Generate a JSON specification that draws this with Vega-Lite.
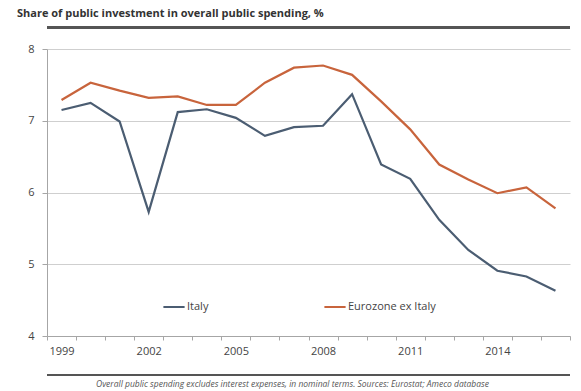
{
  "$schema": "https://vega.github.io/schema/vega-lite/v6.json",
  "width": 523,
  "height": 287,
  "autosize": {"type": "none"},
  "padding": {"left": 47, "top": 49, "right": 11, "bottom": 55},
  "background": "white",
  "config": {
    "font": "Open Sans",
    "view": {"stroke": null}
  },
  "title": {
    "text": "Share of public investment in overall public spending, %",
    "anchor": "start",
    "frame": "group",
    "dx": -30,
    "offset": 7,
    "fontSize": 11,
    "fontWeight": "bold",
    "color": "#333333",
    "font": "Open Sans"
  },
  "datasets": {
    "series": [
      {"year": 1999, "region": "Italy", "value": 7.15},
      {"year": 2000, "region": "Italy", "value": 7.25},
      {"year": 2001, "region": "Italy", "value": 6.99},
      {"year": 2002, "region": "Italy", "value": 5.73},
      {"year": 2003, "region": "Italy", "value": 7.12},
      {"year": 2004, "region": "Italy", "value": 7.16},
      {"year": 2005, "region": "Italy", "value": 7.04},
      {"year": 2006, "region": "Italy", "value": 6.79},
      {"year": 2007, "region": "Italy", "value": 6.91},
      {"year": 2008, "region": "Italy", "value": 6.93},
      {"year": 2009, "region": "Italy", "value": 7.37},
      {"year": 2010, "region": "Italy", "value": 6.39},
      {"year": 2011, "region": "Italy", "value": 6.19},
      {"year": 2012, "region": "Italy", "value": 5.62},
      {"year": 2013, "region": "Italy", "value": 5.2},
      {"year": 2014, "region": "Italy", "value": 4.91},
      {"year": 2015, "region": "Italy", "value": 4.83},
      {"year": 2016, "region": "Italy", "value": 4.63},
      {"year": 1999, "region": "Eurozone ex Italy", "value": 7.29},
      {"year": 2000, "region": "Eurozone ex Italy", "value": 7.53},
      {"year": 2001, "region": "Eurozone ex Italy", "value": 7.42},
      {"year": 2002, "region": "Eurozone ex Italy", "value": 7.32},
      {"year": 2003, "region": "Eurozone ex Italy", "value": 7.34},
      {"year": 2004, "region": "Eurozone ex Italy", "value": 7.22},
      {"year": 2005, "region": "Eurozone ex Italy", "value": 7.22},
      {"year": 2006, "region": "Eurozone ex Italy", "value": 7.53},
      {"year": 2007, "region": "Eurozone ex Italy", "value": 7.74},
      {"year": 2008, "region": "Eurozone ex Italy", "value": 7.77},
      {"year": 2009, "region": "Eurozone ex Italy", "value": 7.64},
      {"year": 2010, "region": "Eurozone ex Italy", "value": 7.27},
      {"year": 2011, "region": "Eurozone ex Italy", "value": 6.88},
      {"year": 2012, "region": "Eurozone ex Italy", "value": 6.39},
      {"year": 2013, "region": "Eurozone ex Italy", "value": 6.18},
      {"year": 2014, "region": "Eurozone ex Italy", "value": 5.99},
      {"year": 2015, "region": "Eurozone ex Italy", "value": 6.07},
      {"year": 2016, "region": "Eurozone ex Italy", "value": 5.78}
    ],
    "rules": [
      {"level": 8.3, "kind": "top"},
      {"level": 3.455, "kind": "bottom"}
    ]
  },
  "layer": [
    {
      "data": {"name": "rules"},
      "mark": {"type": "rule", "clip": false},
      "encoding": {
        "y": {"field": "level", "type": "quantitative", "scale": {"domain": [4, 8], "nice": false, "zero": false}},
        "color": {"value": "#555555"},
        "strokeWidth": {"condition": {"test": "datum.kind == 'top'", "value": 3}, "value": 2}
      }
    },
    {
      "data": {"name": "series"},
      "mark": {"type": "line", "strokeWidth": 2.2},
      "encoding": {
        "x": {
          "field": "year",
          "type": "ordinal",
          "scale": {"type": "band", "paddingInner": 0, "paddingOuter": 0},
          "axis": {
            "tickBand": "extent",
            "labelAngle": 0,
            "labelExpr": "(datum.value - 1999) % 3 == 0 ? datum.label : ''",
            "domainColor": "#a6a6a6",
            "tickColor": "#a6a6a6",
            "tickSize": 4,
            "labelPadding": 5,
            "labelFontSize": 11,
            "labelColor": "#444444",
            "labelFont": "Open Sans",
            "title": "Overall public spending excludes interest expenses, in nominal terms. Sources: Eurostat; Ameco database",
            "titleFontSize": 8.5,
            "titleFontStyle": "italic",
            "titleFontWeight": "normal",
            "titleColor": "#555555",
            "titleFont": "Open Sans",
            "titleX": 245,
            "titleY": 43
          }
        },
        "y": {
          "field": "value",
          "type": "quantitative",
          "axis": {
            "values": [4, 5, 6, 7, 8],
            "format": "d",
            "title": null,
            "grid": true,
            "gridColor": "#cfcfcf",
            "domainColor": "#a6a6a6",
            "tickColor": "#a6a6a6",
            "tickSize": 5,
            "labelPadding": 8,
            "labelFontSize": 11,
            "labelColor": "#444444",
            "labelFont": "Open Sans"
          }
        },
        "color": {
          "field": "region",
          "type": "nominal",
          "scale": {"domain": ["Italy", "Eurozone ex Italy"], "range": ["#4b5d72", "#c8643c"]},
          "legend": {
            "title": null,
            "orient": "none",
            "legendX": 115,
            "legendY": 246,
            "direction": "horizontal",
            "symbolType": "stroke",
            "symbolSize": 450,
            "symbolStrokeWidth": 2,
            "labelFontSize": 11,
            "labelColor": "#444444",
            "labelFont": "Open Sans",
            "labelOffset": 1,
            "columnPadding": 111
          }
        }
      }
    }
  ]
}
